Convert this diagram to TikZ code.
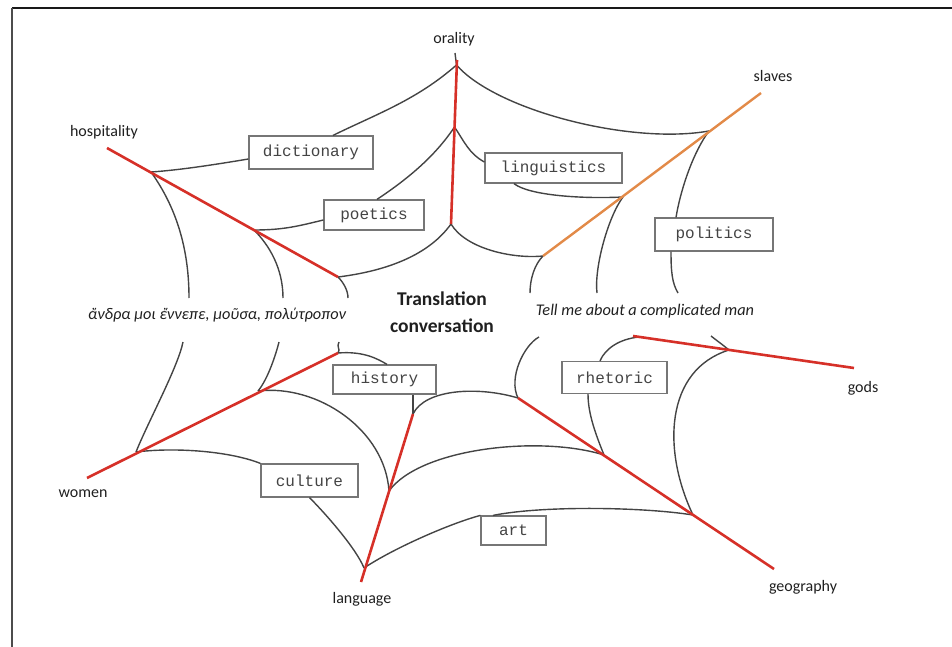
\documentclass[tikz,border=0pt]{standalone}
\usepackage{fontspec}
\setmainfont{Carlito}
\newfontfamily\termfont{Liberation Mono}
\definecolor{spokeRed}{RGB}{214,48,40}
\definecolor{spokeOrange}{RGB}{226,138,72}
\definecolor{threadGray}{RGB}{68,68,68}
\definecolor{boxGray}{RGB}{118,118,118}
\tikzstyle{redSpoke}=[draw = spokeRed, line width = 2.6pt]
\tikzstyle{orangeSpoke}=[draw = spokeOrange, line width = 2.4pt]
\tikzstyle{webThread}=[draw = threadGray, line width = 1.4pt]
\tikzstyle{termBox}=[shape = rectangle, draw = boxGray, line width = 1.2pt, fill = white, inner sep = 0pt, minimum height = 31pt, text = threadGray, font = \termfont\fontsize{16}{16}\selectfont]
\tikzstyle{tipLabel}=[inner sep = 0pt, text = black!88, font = \fontsize{16}{18}\selectfont]

\begin{document}
\begin{tikzpicture}[x = 1pt, y = -1pt]
\tikzstyle{quoteLabel}=[inner sep = 0pt, text = black!88, font = \itshape\fontsize{16.3}{18}\selectfont]
\useasboundingbox (0,0) rectangle (952,647);
% frame
\draw[line width = 2pt, black!90] (12,8.5) -- (952,8.5);
\draw[line width = 2pt, black!70] (12,8.5) -- (12,647);
% spoke points
\coordinate (otick) at (455,53);
\coordinate (o0) at (457,60);
\coordinate (o1) at (456.5,65);
\coordinate (o2) at (454.5,127);
\coordinate (o3) at (451,224);
\coordinate (h0) at (107,148);
\coordinate (h1) at (151,172);
\coordinate (h2) at (254,230);
\coordinate (h3) at (338,277);
\coordinate (s0) at (761,93);
\coordinate (s1) at (709,131);
\coordinate (s2) at (623,197);
\coordinate (s3) at (543,256);
\coordinate (w0) at (87,478);
\coordinate (w1) at (136,452);
\coordinate (w2) at (258,391);
\coordinate (w3) at (338,353);
\coordinate (l0) at (361,582);
\coordinate (l1) at (364,568);
\coordinate (l2) at (389,491);
\coordinate (l3) at (413,414);
\coordinate (g0) at (774,569);
\coordinate (g1) at (693,515);
\coordinate (g2) at (604,455);
\coordinate (g3) at (518,398);
\coordinate (d0) at (854,368);
\coordinate (d2) at (729,350);
\coordinate (d3) at (633,336);
\coordinate (d3in) at (639,337);
% loose ends near the centre
\coordinate (h1end) at (189,298);
\coordinate (h2end) at (283,298);
\coordinate (h3end) at (348,298);
\coordinate (s1end) at (678,293);
\coordinate (s2end) at (597,293);
\coordinate (s3end) at (530,293);
\coordinate (w1end) at (183,342);
\coordinate (w2end) at (279,342);
\coordinate (w3end) at (339,342);
\coordinate (g3end) at (539,337);
\coordinate (d2end) at (711,336);
% boxes
\node[termBox, minimum width = 124pt, minimum height = 33pt] (dict) at (311,152.5) {dictionary};
\node[termBox, minimum width = 100pt, minimum height = 30pt] (poet) at (374,215) {poetics};
\node[termBox, minimum width = 137pt, minimum height = 30pt] (ling) at (553.5,168) {linguistics};
\node[termBox, minimum width = 118pt, minimum height = 33pt] (pol) at (714,234.5) {politics};
\node[termBox, minimum width = 103pt, minimum height = 29pt] (hist) at (384.5,379.5) {history};
\node[termBox, minimum width = 105pt, minimum height = 32pt] (rhet) at (614.5,377.5) {rhetoric};
\node[termBox, minimum width = 97pt, minimum height = 33pt] (cult) at (309.5,480.5) {culture};
\node[termBox, minimum width = 65pt, minimum height = 29pt] (art) at (513.5,530.5) {art};
% Start top half
\draw[webThread] (o1) .. controls +(-40,35) and +(45,-22) .. ([xshift=22pt]dict.north);
\draw[webThread] (o1) .. controls +(39,45) and +(-79,14) .. (s1);
\draw[webThread] (o2) .. controls +(-20,30) and +(30,-20) .. ([xshift=3pt]poet.north);
\draw[webThread] (o2) .. controls +(10,15) and +(-15,-8) .. ([yshift=6pt]ling.west);
\draw[webThread] ([xshift=-39.5pt]ling.south) .. controls +(15,12) and +(-40,2) .. (s2);
\draw[webThread] (h1) .. controls +(30,-2) and +(-30,5) .. ([yshift=-6.5pt]dict.west);
\draw[webThread] (h1) .. controls +(25,35) and +(0,-50) .. (h1end);
\draw[webThread] (h2) .. controls +(30,0) and +(-25,6) .. ([yshift=-5pt]poet.west);
\draw[webThread] (h2) .. controls +(15,15) and +(0,-30) .. (h2end);
\draw[webThread] (h3) .. controls +(40,-5) and +(-25,35) .. (o3);
\draw[webThread] (h3) .. controls +(5,5) and +(0,-8) .. (h3end);
\draw[webThread] (o3) .. controls +(15,25) and +(-30,3) .. (s3);
\draw[webThread] (s1) .. controls +(-15,20) and +(5,-30) .. ([xshift=-38pt]pol.north);
\draw[webThread] ([xshift=-43pt]pol.south) .. controls +(0,20) and +(-6,-10) .. (s1end);
\draw[webThread] (s2) .. controls +(-15,20) and +(-3,-25) .. (s2end);
\draw[webThread] (s3) .. controls +(-8,8) and +(0,-15) .. (s3end);
\draw[webThread] (otick) -- (o1);
% Start bottom half
\draw[webThread] (w1) .. controls +(12,-30) and +(-5,25) .. (w1end);
\draw[webThread] (w2) .. controls +(10,-12) and +(-3,12) .. (w2end);
\draw[webThread] (w3) .. controls +(3,-4) and +(-3,5) .. (w3end);
\draw[webThread] (w3) .. controls +(25,-2) and +(-10,-6) .. ([xshift=2.5pt]hist.north);
\draw[webThread] ([xshift=28.5pt]hist.south) -- (l3);
\draw[webThread] (w2) .. controls +(60,-7) and +(-4,-61) .. (l2);
\draw[webThread] (w1) .. controls +(40,-5) and +(-30,-12) .. (cult.north west);
\draw[webThread] (cult.south) .. controls +(15,15) and +(-8,-20) .. (l1);
\draw[webThread] (l3) .. controls +(12,-25) and +(-40,-12) .. (g3);
\draw[webThread] (l2) .. controls +(31,-43) and +(-64,-20) .. (g2);
\draw[webThread] (l1) .. controls +(30,-20) and +(-30,8) .. (art.north west);
\draw[webThread] ([xshift=-20.5pt]art.north) .. controls +(50,-10) and +(-50,-8) .. (g1);
\draw[webThread] (g3) .. controls +(-10,-20) and +(-15,8) .. (g3end);
\draw[webThread] (g2) .. controls +(-8,-20) and +(0,20) .. ([xshift=-26.5pt]rhet.south);
\draw[webThread] ([xshift=-14.5pt]rhet.north) .. controls +(5,-12) and +(-20,2) .. (d3in);
\draw[webThread] (g1) .. controls +(-31,-65) and +(-64,20) .. (d2);
\draw[webThread] (d2) .. controls +(-6,-5) and +(5,4) .. (d2end);
% spokes
\draw[redSpoke] (o0) -- (o3);
\draw[redSpoke] (h0) -- (h3);
\draw[orangeSpoke] (s0) -- (s3);
\draw[redSpoke] (w0) -- (w3);
\draw[redSpoke] (l0) -- (l3);
\draw[redSpoke] (g0) -- (g3);
\draw[redSpoke] (d0) -- (d3);
% labels
\node[tipLabel] (orality) at (454,39) {orality};
\node[tipLabel] (slaves) at (773,76) {slaves};
\node[tipLabel] (hospitality) at (104,132) {hospitality};
\node[tipLabel] (women) at (83,494) {women};
\node[tipLabel] (language) at (362,599) {language};
\node[tipLabel] (geography) at (803,587) {geography};
\node[tipLabel] (gods) at (863,388) {gods};
\node[quoteLabel] (greek) at (217,315) {ἄνδρα μοι ἔννεπε, μοῦσα, πολύτροπον};
\node[quoteLabel] (english) at (645,311) {Tell me about a complicated man};
\node[inner sep = 0pt, align = center, text = black!88, font = \bfseries\fontsize{19.5}{27}\selectfont] (centre) at (442,312.5) {Translation\\conversation};
\end{tikzpicture}
\end{document}
